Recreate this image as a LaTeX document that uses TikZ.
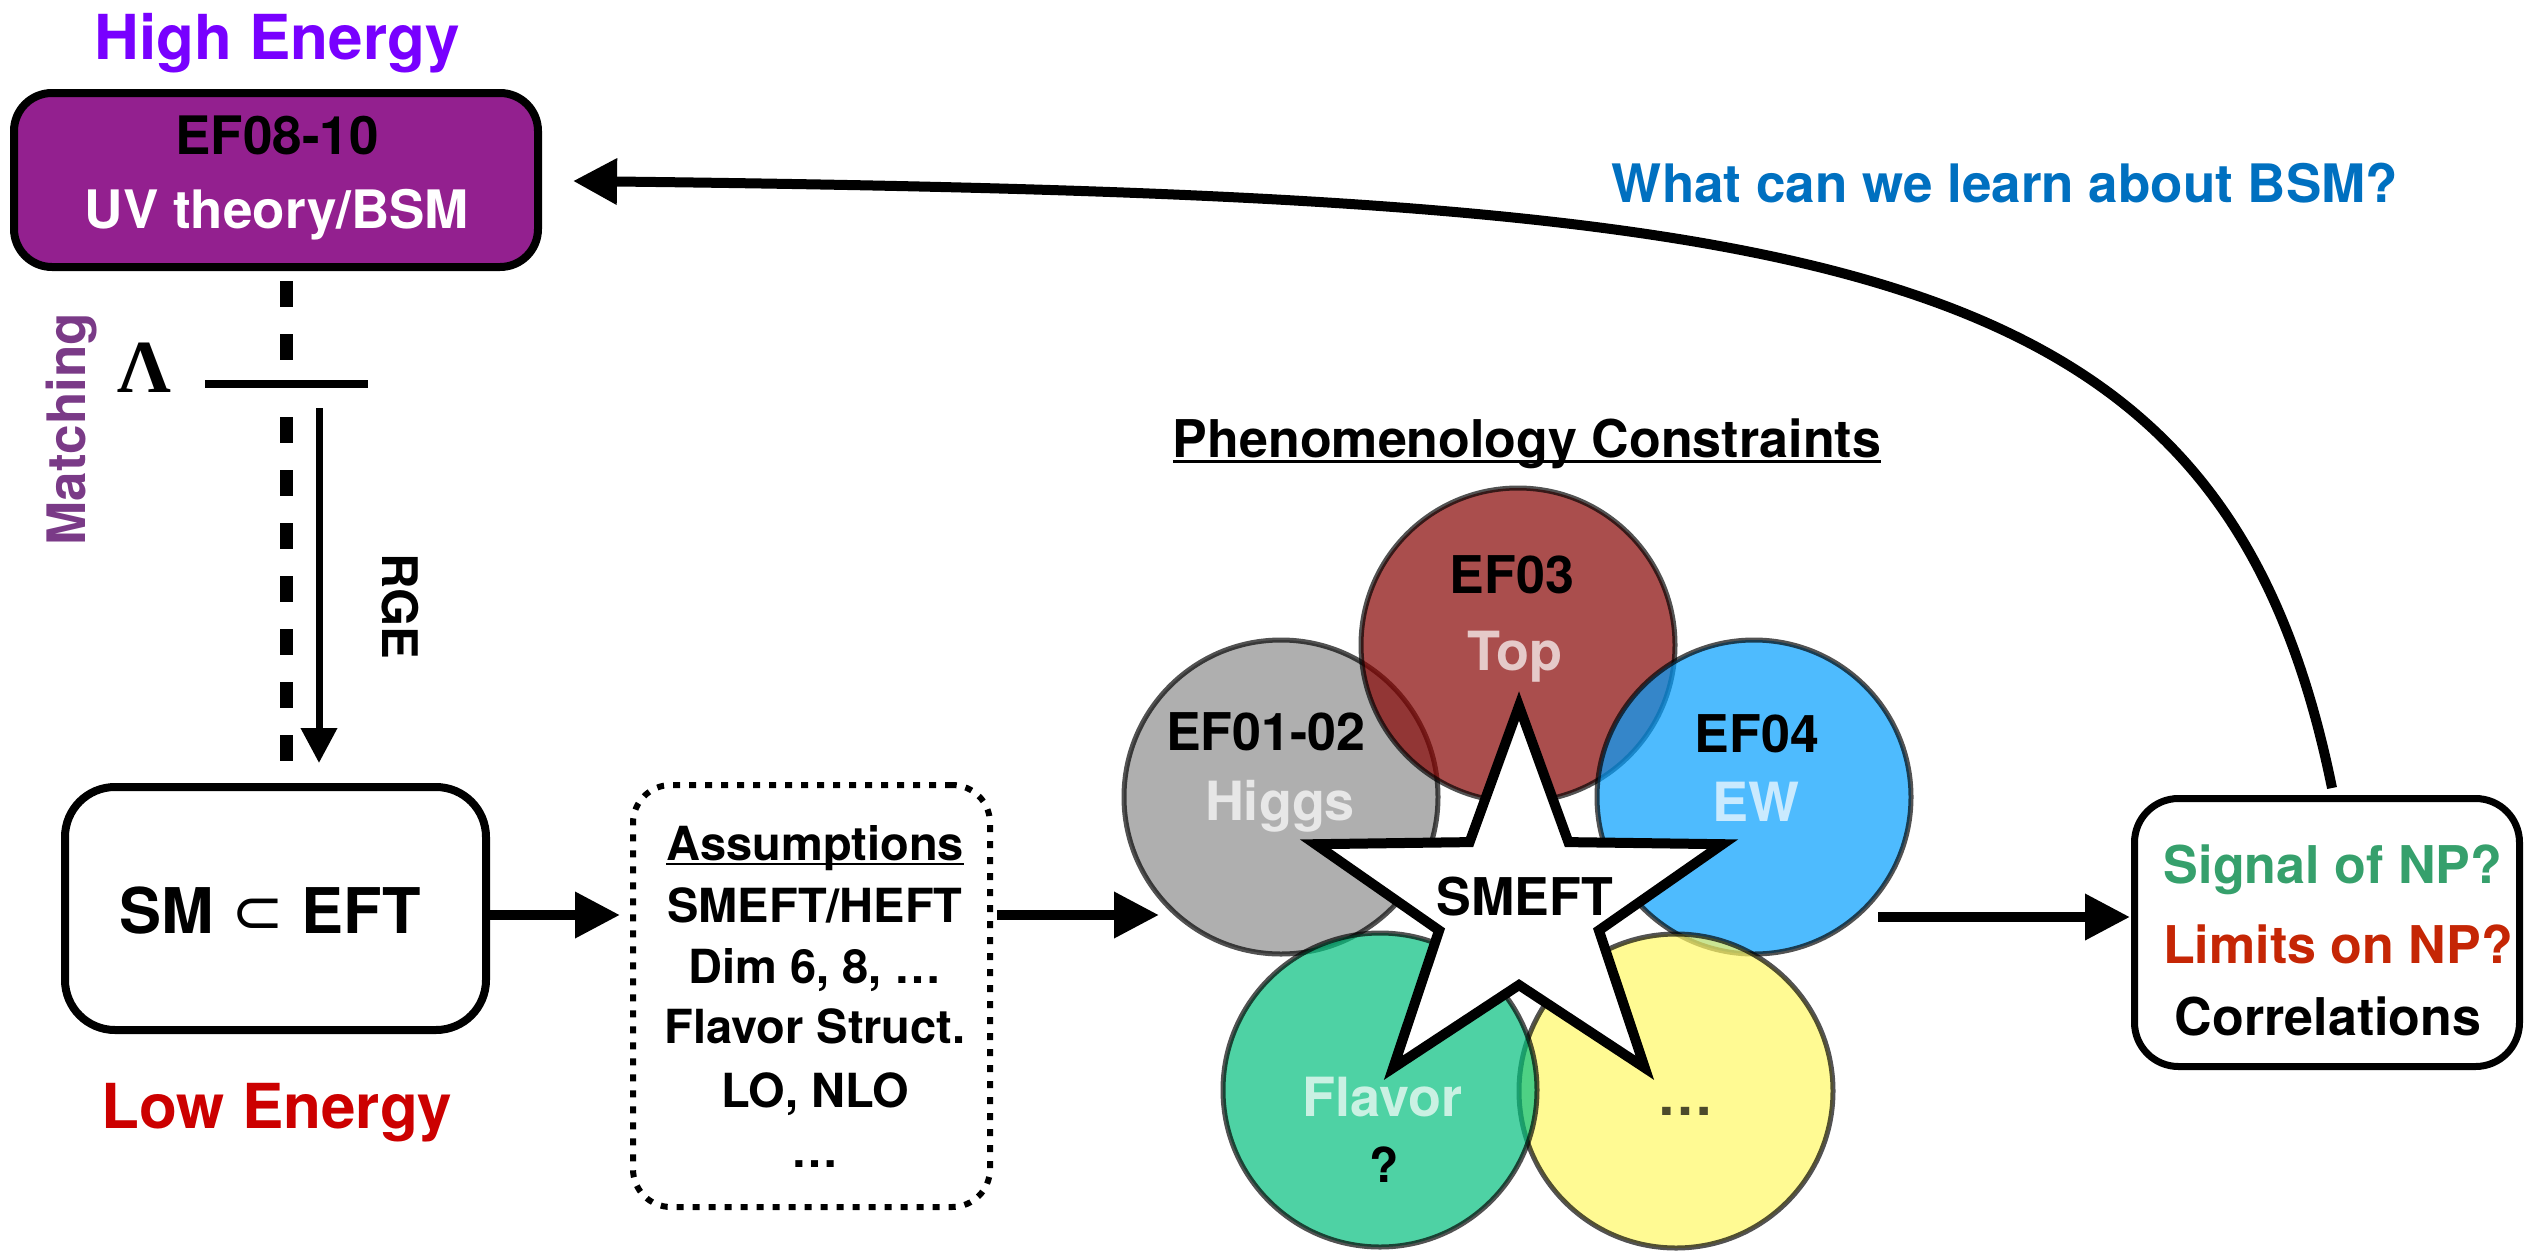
\documentclass[tikz,border=0pt]{standalone}
\usepackage{fontspec}
\setmainfont{TeX Gyre Heros}
\newfontfamily\serifG{Liberation Serif}
\newfontfamily\djv{DejaVu Sans}
\usetikzlibrary{arrows.meta,calc}

\definecolor{hecol}{RGB}{120,0,255}
\definecolor{uvfill}{RGB}{147,32,143}
\definecolor{matchcol}{RGB}{122,58,135}
\definecolor{lecol}{RGB}{204,0,0}
\definecolor{bluetxt}{RGB}{0,112,192}
\definecolor{sigcol}{RGB}{54,160,108}
\definecolor{limcol}{RGB}{197,38,5}
\definecolor{cgray}{RGB}{142,142,142}
\definecolor{cred}{RGB}{135,4,2}
\definecolor{cblue}{RGB}{4,159,254}
\definecolor{cgreen}{RGB}{4,192,126}
\definecolor{cyellow}{RGB}{255,248,102}

\newcommand{\fs}[1]{\fontsize{#1}{#1}\selectfont}

\begin{document}
\begin{tikzpicture}[x=1pt,y=-1pt,
  lbl/.style={inner sep=0pt, outer sep=0pt, anchor=base},
  arr/.style={line width=10pt, -{Triangle[length=45pt,width=44pt]}},
  circ/.style={circle, minimum size=314pt, inner sep=0pt, fill opacity=0.7,
    draw=black, draw opacity=0.68, line width=5pt},
  dashln/.style={line width=13pt, dash pattern=on 26pt off 27pt},
  ctxt/.style={lbl, text=white, text opacity=0.7, font=\fs{54}\bfseries},
  btxt/.style={lbl, font=\fs{52}\bfseries},
]
\fill[white] (0,0) rectangle (2541,1251);
\useasboundingbox (0,0) rectangle (2541,1251);

% ---------- boxes ----------
\node[draw, line width=8pt, fill=uvfill, rounded corners=38pt,
      minimum width=524pt, minimum height=174pt, inner sep=0pt] (uv) at (276,180) {};
\node[draw, line width=8pt, rounded corners=50pt,
      minimum width=421pt, minimum height=243pt, inner sep=0pt] (sm) at (275.5,908.5) {};
\node[draw, line width=6pt, dash pattern=on 7pt off 9pt, rounded corners=38pt,
      minimum width=357pt, minimum height=422pt, inner sep=0pt] (asm) at (811.5,996) {};
\node[draw, line width=7pt, rounded corners=44pt,
      minimum width=385pt, minimum height=268pt, inner sep=0pt] (res) at (2327,932.5) {};

% ---------- circles ----------
\node[circ, fill=cgray]   (cH) at (1281,797) {};
\node[circ, fill=cred]    (cT) at (1518,645) {};
\node[circ, fill=cblue]   (cE) at (1754,797) {};
\node[circ, fill=cyellow] (cD) at (1676,1091) {};
\node[circ, fill=cgreen]  (cF) at (1380,1090) {};

% ---------- star ----------
\draw[line width=10pt, fill=white, line join=miter]
  (1519,706) -- (1568.4,842.1) -- (1722.5,844.2) -- (1598.9,930.4)
  -- (1644.8,1067.8) -- (1519,985) -- (1393.2,1067.8) -- (1439.1,930.4)
  -- (1315.5,844.2) -- (1469.6,842.1) -- cycle;

% ---------- connectors ----------
\draw[dashln] ($(uv.south)+(10,10)$) -- ($(uv.south)+(10,117)$);
\draw[dashln] ($(uv.south)+(10,146)$) -- ($(sm.north)+(10.5,-20)$);
\draw[line width=8pt] (205,384) -- (368,384);
\draw[line width=7pt, -{Triangle[length=35pt,width=35pt]}]
  ($(sm.north)+(43.5,-375)$) -- ($(sm.north)+(43.5,-20)$);

\coordinate (pin) at (1159,915);
\coordinate (pout) at (1878,917);
\draw[arr] ($(sm.east)+(0,6.5)$) -- ($(asm.west)+(-10,-81)$);
\draw[arr] ($(asm.east)+(4,-81)$) -- (pin);
\draw[arr] (pout) -- ($(res.west)+(-1,-15.5)$);
\draw[line width=10pt, -{Triangle[length=44pt,width=44pt]}]
  ($(res.north)+(5,-7)$) .. controls (2222,248) and (1843,196) .. ($(uv.east)+(31,1)$);

% ---------- texts ----------
\node[lbl, text=hecol, font=\fs{62}\bfseries] (he) at (277,59) {High Energy};
\node[lbl, font=\fs{53}\bfseries] (ef810) at (277,154) {EF08-10};
\node[lbl, text=white, font=\fs{53}\bfseries] (uvt) at (277,228) {UV theory/BSM};
\node[lbl, font=\fs{75}\serifG\bfseries] (lam) at (144,392) {Λ};
\node[lbl, rotate=90, text=matchcol, font=\fs{53}\bfseries] (match) at (85,429) {Matching};
\node[lbl, rotate=-90, font=\fs{49}\bfseries] (rge) at (382,606) {RGE};
\node[lbl, font=\fs{63}\bfseries] (smt) at (270,933) {SM {\djv\mdseries ⊂} EFT};
\node[lbl, text=lecol, font=\fs{62}\bfseries] (le) at (277,1128) {Low Energy};

\node[lbl, font=\fs{47}\bfseries] (as1) at (815,860) {Assumptions};
\draw[line width=2.5pt] ($(as1.base west)+(0,4)$) -- ($(as1.base east)+(0,4)$);
\node[lbl, font=\fs{47}\bfseries] (as2) at (815,922) {SMEFT/HEFT};
\node[lbl, font=\fs{47}\bfseries] (as3) at (815,983) {Dim 6, 8, …};
\node[lbl, font=\fs{47}\bfseries] (as4) at (815,1043) {Flavor Struct.};
\node[lbl, font=\fs{47}\bfseries] (as5) at (815,1107) {LO, NLO};
\node[lbl, font=\fs{47}\bfseries] (as6) at (815,1167) {…};

\node[btxt] (phen) at (1527,457) {Phenomenology Constraints};
\draw[line width=3pt] ($(phen.base west)+(0,4)$) -- ($(phen.base east)+(0,4)$);

\node[btxt] (ef12) at (1266,750) {EF01-02};
\node[ctxt] (higgs) at (1280,820) {Higgs};
\node[btxt] (ef3) at (1512,593) {EF03};
\node[ctxt] (top) at (1515,670) {Top};
\node[btxt] (ef4) at (1757,752) {EF04};
\node[ctxt] (ew) at (1756,821) {EW};
\node[ctxt] (flav) at (1382,1116) {Flavor};
\node[lbl, font=\fs{48}\bfseries] (qm) at (1384,1182) {?};
\node[lbl, text opacity=0.7, font=\fs{56}\bfseries] (dots) at (1685,1115) {…};
\node[btxt] (smeft) at (1525,915) {SMEFT};

\node[btxt, text=sigcol] (sig) at (2333,883) {Signal of NP?};
\node[btxt, text=limcol] (lim) at (2338,963) {Limits on NP?};
\node[btxt] (cor) at (2328,1035) {Correlations};

\node[lbl, text=bluetxt, font=\fs{53}\bfseries] (bsm) at (2005,202) {What can we learn about BSM?};
\end{tikzpicture}
\end{document}
